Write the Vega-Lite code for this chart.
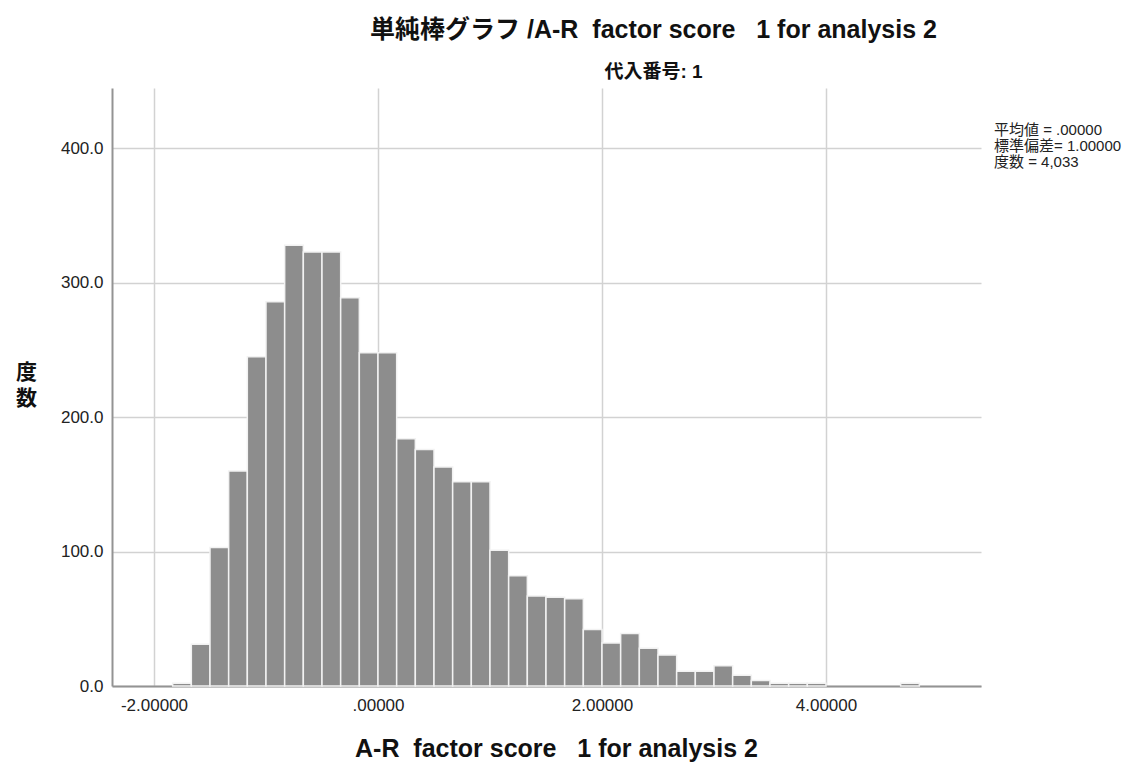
{
  "$schema": "https://vega.github.io/schema/vega-lite/v6.json",
  "width": 869,
  "height": 598,
  "autosize": {"type": "none"},
  "padding": {"left": 112, "top": 88, "right": 158, "bottom": 79},
  "background": "white",
  "config": {
    "font": "Liberation Sans, Noto Sans CJK JP",
    "view": {"stroke": null}
  },
  "title": {
    "text": "単純棒グラフ /A-R\u00a0 factor score\u00a0\u00a0 1 for analysis 2",
    "subtitle": "代入番号: 1",
    "anchor": "middle",
    "frame": "group",
    "dx": 107,
    "offset": 6,
    "fontSize": 25,
    "fontWeight": "bold",
    "color": "#111",
    "subtitleFontSize": 19,
    "subtitleFontWeight": "bold",
    "subtitleColor": "#111",
    "subtitlePadding": 20,
    "font": "Liberation Sans, Noto Sans CJK JP",
    "subtitleFont": "Liberation Sans, Noto Sans CJK JP"
  },
  "datasets": {
    "histogram": [
      {"bin_start": -1.83333, "bin_end": -1.66667, "count": 2},
      {"bin_start": -1.66667, "bin_end": -1.5, "count": 31},
      {"bin_start": -1.5, "bin_end": -1.33333, "count": 103},
      {"bin_start": -1.33333, "bin_end": -1.16667, "count": 160},
      {"bin_start": -1.16667, "bin_end": -1.0, "count": 245},
      {"bin_start": -1.0, "bin_end": -0.83333, "count": 286},
      {"bin_start": -0.83333, "bin_end": -0.66667, "count": 328},
      {"bin_start": -0.66667, "bin_end": -0.5, "count": 323},
      {"bin_start": -0.5, "bin_end": -0.33333, "count": 323},
      {"bin_start": -0.33333, "bin_end": -0.16667, "count": 289},
      {"bin_start": -0.16667, "bin_end": 0.0, "count": 248},
      {"bin_start": 0.0, "bin_end": 0.16667, "count": 248},
      {"bin_start": 0.16667, "bin_end": 0.33333, "count": 184},
      {"bin_start": 0.33333, "bin_end": 0.5, "count": 176},
      {"bin_start": 0.5, "bin_end": 0.66667, "count": 163},
      {"bin_start": 0.66667, "bin_end": 0.83333, "count": 152},
      {"bin_start": 0.83333, "bin_end": 1.0, "count": 152},
      {"bin_start": 1.0, "bin_end": 1.16667, "count": 101},
      {"bin_start": 1.16667, "bin_end": 1.33333, "count": 82},
      {"bin_start": 1.33333, "bin_end": 1.5, "count": 67},
      {"bin_start": 1.5, "bin_end": 1.66667, "count": 66},
      {"bin_start": 1.66667, "bin_end": 1.83333, "count": 65},
      {"bin_start": 1.83333, "bin_end": 2.0, "count": 42},
      {"bin_start": 2.0, "bin_end": 2.16667, "count": 32},
      {"bin_start": 2.16667, "bin_end": 2.33333, "count": 39},
      {"bin_start": 2.33333, "bin_end": 2.5, "count": 28},
      {"bin_start": 2.5, "bin_end": 2.66667, "count": 23},
      {"bin_start": 2.66667, "bin_end": 2.83333, "count": 11},
      {"bin_start": 2.83333, "bin_end": 3.0, "count": 11},
      {"bin_start": 3.0, "bin_end": 3.16667, "count": 15},
      {"bin_start": 3.16667, "bin_end": 3.33333, "count": 8},
      {"bin_start": 3.33333, "bin_end": 3.5, "count": 4},
      {"bin_start": 3.5, "bin_end": 3.66667, "count": 2},
      {"bin_start": 3.66667, "bin_end": 3.83333, "count": 2},
      {"bin_start": 3.83333, "bin_end": 4.0, "count": 2},
      {"bin_start": 4.66667, "bin_end": 4.83333, "count": 2}
    ],
    "summary": [
      {"stat": "平均値 = .00000"},
      {"stat": "標準偏差= 1.00000"},
      {"stat": "度数 = 4,033"}
    ]
  },
  "layer": [
    {
      "data": {"name": "histogram"},
      "mark": {"type": "bar", "fill": "#8d8d8d", "stroke": "#f2f2f2", "strokeWidth": 1.5},
      "encoding": {
        "x": {
          "field": "bin_start",
          "type": "quantitative",
          "scale": {"domain": [-2.375, 5.384], "nice": false, "zero": false},
          "axis": {
            "values": [-2, 0, 2, 4],
            "labelExpr": "datum.value == 0 ? '.00000' : replace(format(datum.value, '.5f'), '−', '-')",
            "title": "A-R\u00a0 factor score\u00a0\u00a0 1 for analysis 2",
            "titleFontSize": 25,
            "titleFontWeight": "bold",
            "titleColor": "#111",
            "titleX": 444,
            "titleY": 62,
            "titleBaseline": "middle",
            "titleAlign": "center",
            "labelFontSize": 17,
            "labelColor": "#222",
            "labelPadding": 11,
            "ticks": false,
            "domainColor": "#939393",
            "domainWidth": 2,
            "grid": true,
            "gridColor": "#d2d2d2",
            "gridWidth": 1.5
          }
        },
        "x2": {"field": "bin_end"},
        "y": {
          "field": "count",
          "type": "quantitative",
          "scale": {"domain": [0, 445], "nice": false},
          "axis": {
            "values": [0, 100, 200, 300, 400],
            "format": ".1f",
            "title": ["度", "数"],
            "titleAngle": 0,
            "titleFontSize": 21,
            "titleFontWeight": "bold",
            "titleColor": "#111",
            "titleLineHeight": 26,
            "titleX": -86,
            "titleY": 284,
            "titleAlign": "center",
            "titleBaseline": "middle",
            "labelFontSize": 17,
            "labelColor": "#222",
            "labelPadding": 9,
            "ticks": false,
            "domainColor": "#939393",
            "domainWidth": 2,
            "grid": true,
            "gridColor": "#d2d2d2",
            "gridWidth": 1.5
          }
        },
        "y2": {"datum": 0}
      }
    },
    {
      "data": {"name": "summary"},
      "mark": {"type": "point", "opacity": 0},
      "encoding": {
        "color": {
          "field": "stat",
          "type": "nominal",
          "scale": {
            "domain": ["平均値 = .00000", "標準偏差= 1.00000", "度数 = 4,033"],
            "range": ["#000", "#000", "#000"]
          },
          "legend": {
            "title": null,
            "orient": "none",
            "legendX": 867,
            "legendY": 34,
            "padding": 0,
            "symbolSize": 0.01,
            "symbolOpacity": 0,
            "symbolStrokeWidth": 0,
            "labelOffset": 0,
            "labelFontSize": 15,
            "labelColor": "#222",
            "rowPadding": -1.5
          }
        }
      }
    }
  ]
}
